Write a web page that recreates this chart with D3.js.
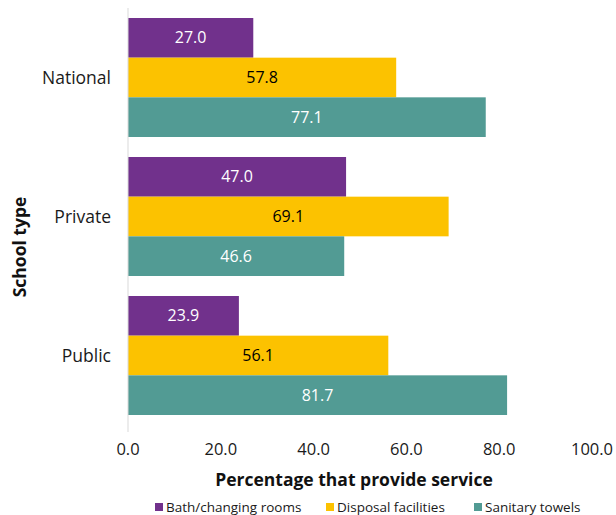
<!DOCTYPE html>
<html>
<head>
<meta charset="utf-8">
<script src="https://cdn.jsdelivr.net/npm/d3@7"></script>
<style>
  html, body { margin: 0; padding: 0; background: #fff; }
  svg { display: block; font-family: "Open Sans", "Noto Sans", sans-serif; }
</style>
</head>
<body>
<svg id="chart" width="616" height="515"></svg>
<script>
// School types (top to bottom) and the three services
const schoolTypes = ["National", "Private", "Public"];
const services = ["Bath/changing rooms", "Disposal facilities", "Sanitary towels"];
const bathValues = [27.0, 47.0, 23.9];
const disposalValues = [57.8, 69.1, 56.1];
const towelValues = [77.1, 46.6, 81.7];
const xTicks = [0, 20, 40, 60, 80, 100];

const seriesValues = [bathValues, disposalValues, towelValues];
const colors = ["#71318c", "#fcc200", "#529b94"];
const labelColors = ["#ffffff", "#000000", "#ffffff"];

const svg = d3.select("#chart");
const plotLeft = 128, plotRight = 592, plotTop = 8, plotBottom = 425;

const x = d3.scaleLinear().domain([0, 100]).range([plotLeft, plotRight]);
const y = d3.scaleBand().domain(schoolTypes).range([plotTop, plotBottom])
  .paddingInner(0.144).paddingOuter(0.072);
const ySub = d3.scaleBand().domain(services).range([0, y.bandwidth()]);

const rows = schoolTypes.flatMap((t, i) =>
  services.map((s, j) => ({ type: t, service: s, si: j, value: seriesValues[j][i] })));

// Bars
svg.append("g").selectAll("rect").data(rows).join("rect")
  .attr("x", x(0))
  .attr("y", d => y(d.type) + ySub(d.service))
  .attr("width", d => x(d.value) - x(0))
  .attr("height", ySub.bandwidth())
  .attr("fill", d => colors[d.si]);

// Value labels centered in each bar
svg.append("g").selectAll("text").data(rows).join("text")
  .attr("x", d => (x(0) + x(d.value)) / 2)
  .attr("y", d => y(d.type) + ySub(d.service) + ySub.bandwidth() / 2)
  .attr("dy", "0.35em")
  .attr("text-anchor", "middle")
  .attr("font-size", 16)
  .attr("fill", d => labelColors[d.si])
  .text(d => d3.format(".1f")(d.value));

// Vertical baseline
svg.append("line")
  .attr("x1", x(0)).attr("x2", x(0))
  .attr("y1", plotTop).attr("y2", 432)
  .attr("stroke", "#d9d9d9").attr("stroke-width", 1);

// Category labels
svg.append("g").selectAll("text").data(schoolTypes).join("text")
  .attr("x", 111)
  .attr("y", d => y(d) + y.bandwidth() / 2)
  .attr("dy", "0.35em")
  .attr("text-anchor", "end")
  .attr("font-size", 17.5)
  .attr("fill", "#1a1a1a")
  .text(d => d);

// X tick labels
svg.append("g").selectAll("text").data(xTicks).join("text")
  .attr("x", d => x(d))
  .attr("y", 455)
  .attr("text-anchor", "middle")
  .attr("font-size", 16.5)
  .attr("fill", "#1a1a1a")
  .text(d => d3.format(".1f")(d));

// Axis titles
svg.append("text")
  .attr("x", 354).attr("y", 486)
  .attr("text-anchor", "middle")
  .attr("font-size", 17.5).attr("font-weight", "bold").attr("fill", "#111")
  .text("Percentage that provide service");

svg.append("text")
  .attr("transform", "translate(26,247) rotate(-90)")
  .attr("text-anchor", "middle")
  .attr("font-size", 17.5).attr("font-weight", "bold").attr("fill", "#111")
  .text("School type");

// Legend
const legendX = [155, 326, 474];
const legend = svg.append("g").selectAll("g").data(services).join("g")
  .attr("transform", (d, i) => `translate(${legendX[i]},503)`);
legend.append("rect").attr("width", 8).attr("height", 8)
  .attr("fill", (d, i) => colors[i]);
legend.append("text").attr("x", 11).attr("y", 9)
  .attr("font-size", 13.5).attr("fill", "#1a1a1a")
  .text(d => d);
</script>
</body>
</html>
